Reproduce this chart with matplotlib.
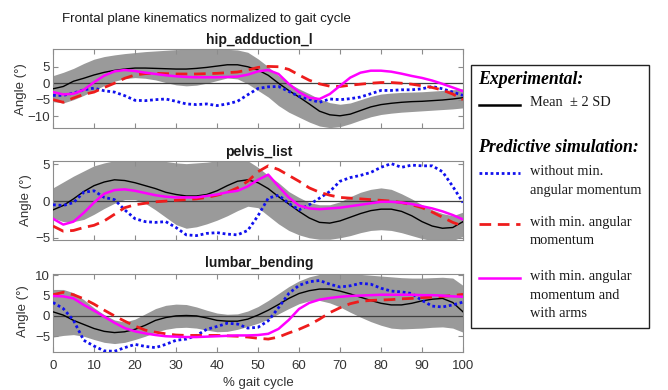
import numpy as np
import matplotlib
matplotlib.use("Agg")
import matplotlib.pyplot as plt
from matplotlib.lines import Line2D
from matplotlib.patches import Rectangle

# ---------------- data ----------------
gait = [0, 2.5, 5, 7.5, 10, 12.5, 15, 17.5, 20, 22.5, 25, 27.5, 30, 32.5, 35, 37.5, 40,
        42.5, 45, 47.5, 50, 52.5, 55, 57.5, 60, 62.5, 65, 67.5, 70, 72.5, 75, 77.5, 80,
        82.5, 85, 87.5, 90, 92.5, 95, 97.5, 100]

# hip_adduction_l
hip_mean = [-1.7, -1.0, 0.6, 1.5, 2.5, 3.3, 3.9, 4.3, 4.6, 4.6, 4.5, 4.4, 4.3, 4.3, 4.5, 4.8, 5.2,
            5.6, 5.6, 5.0, 4.0, 2.4, 0.0, -2.2, -4.2, -6.3, -8.5, -9.6, -9.9, -9.4, -8.3, -7.2, -6.5,
            -6.1, -5.8, -5.6, -5.5, -5.3, -5.1, -4.8, -4.4]
hip_upper = [2.3, 3.3, 4.5, 6.0, 7.3, 8.1, 8.6, 9.0, 9.3, 9.6, 9.8, 10.0, 10.2, 10.3, 10.3, 10.3, 10.3,
             10.3, 10.1, 9.4, 7.4, 5.0, 2.3, 0.0, -1.7, -3.2, -4.8, -5.9, -6.4, -6.0, -5.0, -4.0, -3.3,
             -3.0, -2.8, -2.7, -2.6, -2.4, -2.2, -2.0, -1.7]
hip_lower = [-5.6, -6.0, -5.0, -3.7, -2.2, -0.7, 0.6, 1.4, 1.7, 1.5, 1.0, 0.2, -0.5, -0.8, -0.6, 0.0, 0.8,
             1.6, 1.3, -0.2, -2.2, -4.2, -6.8, -8.8, -10.3, -11.8, -13.0, -13.5, -13.2, -12.3, -11.2, -10.2, -9.5,
             -9.1, -8.8, -8.6, -8.4, -8.2, -8.0, -7.8, -7.5]
hip_nomin = [-3.7, -3.7, -3.0, -2.0, -1.5, -2.3, -2.7, -3.8, -5.2, -5.3, -5.0, -4.8, -5.5, -6.3, -6.5, -6.3, -6.8,
             -6.3, -5.5, -3.5, -1.6, -1.1, -1.0, -2.5, -4.0, -4.9, -5.8, -4.8, -5.0, -4.7, -4.2, -3.2, -2.2,
             -2.2, -2.0, -2.0, -1.7, -1.0, -1.7, -2.7, -3.7]
hip_minam = [-5.0, -5.8, -4.5, -3.4, -2.7, -1.3, 0.0, 1.5, 2.5, 2.9, 3.0, 2.9, 2.8, 2.8, 2.8, 2.9, 3.0,
             3.2, 3.4, 4.0, 4.8, 5.1, 5.0, 4.2, 2.5, 0.9, -0.2, -0.9, -1.0, -0.6, -0.3, 0.0, 0.2,
             0.2, 0.0, -0.3, -0.8, -1.3, -2.1, -3.3, -5.0]
hip_arms = [-2.7, -3.4, -3.2, -2.0, 0.3, 2.3, 3.6, 4.0, 3.7, 3.2, 2.8, 2.4, 2.1, 1.9, 1.8, 1.8, 1.8,
            1.9, 2.0, 2.6, 3.6, 4.0, 2.8, -0.2, -2.7, -4.4, -4.8, -3.3, -0.8, 1.7, 3.2, 3.8, 3.8,
            3.5, 2.9, 2.2, 1.6, 0.8, -0.2, -1.3, -2.4]

# pelvis_list
pel_mean = [-1.2, -0.6, 0.3, 1.3, 2.1, 2.6, 2.9, 2.8, 2.5, 2.1, 1.7, 1.2, 0.9, 0.7, 0.7, 0.9, 1.4,
            2.1, 2.7, 2.9, 2.5, 1.7, 0.6, -0.4, -1.4, -2.3, -2.9, -3.0, -2.7, -2.2, -1.7, -1.3, -1.1,
            -1.1, -1.4, -2.0, -2.8, -3.4, -3.7, -3.6, -2.8]
pel_upper = [1.8, 2.6, 3.4, 4.1, 4.8, 5.2, 5.5, 5.5, 5.5, 5.5, 5.5, 5.4, 5.2, 5.1, 5.2, 5.3, 5.5,
             5.5, 5.5, 5.5, 4.6, 3.5, 2.5, 1.3, 0.5, -0.2, -0.5, -0.5, -0.1, 0.6, 1.2, 1.6, 1.8,
             1.6, 1.0, 0.3, -0.5, -1.2, -1.7, -2.0, -1.5]
pel_lower = [-2.3, -2.8, -2.8, -2.5, -1.8, -1.0, -0.3, 0.2, 0.2, -0.3, -1.2, -2.2, -3.2, -3.7, -3.5, -3.1, -2.6,
             -2.0, -1.3, -0.7, -0.9, -2.0, -3.1, -4.0, -4.6, -5.0, -5.2, -5.2, -5.0, -4.7, -4.3, -4.0, -3.9,
             -4.0, -4.3, -4.7, -5.1, -5.4, -5.5, -5.4, -4.8]
pel_nomin = [-0.5, -0.6, -0.2, 1.2, 1.4, 0.5, 0.2, -1.2, -2.4, -2.8, -2.9, -2.8, -3.6, -4.6, -4.7, -4.4, -4.3,
             -4.5, -4.6, -4.0, -2.0, 0.4, 0.8, -0.3, -1.2, -0.5, 0.4, 1.3, 2.7, 3.2, 3.5, 3.9, 4.6,
             5.1, 4.6, 4.9, 4.8, 4.8, 4.0, 2.0, -0.2]
pel_minam = [-3.4, -4.1, -4.0, -3.6, -3.3, -2.7, -1.8, -0.9, -0.5, -0.3, -0.1, 0.0, 0.1, 0.2, 0.3, 0.5, 0.8,
             1.2, 1.8, 2.7, 4.0, 4.8, 4.3, 3.5, 2.7, 1.8, 1.2, 0.8, 0.5, 0.4, 0.3, 0.2, 0.1,
             0.0, -0.2, -0.5, -0.9, -1.5, -2.2, -2.9, -3.4]
pel_arms = [-2.4, -3.2, -2.8, -1.6, -0.2, 1.0, 1.5, 1.6, 1.4, 1.1, 0.8, 0.6, 0.5, 0.5, 0.5, 0.7, 0.9,
            1.2, 1.4, 2.0, 2.9, 3.6, 2.0, 0.5, -0.6, -1.0, -1.1, -1.0, -0.9, -0.7, -0.5, -0.3, -0.1,
            -0.1, -0.2, -0.4, -0.7, -1.0, -1.4, -1.9, -2.5]

# lumbar_bending
lum_mean = [1.0, 0.2, -1.1, -2.1, -3.1, -3.8, -4.1, -3.9, -3.3, -2.3, -1.1, -0.4, 0.0, 0.1, 0.0, -0.5, -1.1,
            -1.3, -1.3, -0.8, 0.2, 1.4, 2.8, 4.3, 5.5, 6.2, 6.6, 6.6, 6.1, 5.4, 4.6, 3.8, 3.1,
            2.7, 2.7, 3.1, 3.7, 4.1, 4.3, 3.3, 1.0]
lum_upper = [6.5, 6.5, 5.7, 4.0, 2.0, 0.3, -1.0, -1.5, -0.8, 0.5, 1.8, 2.6, 2.9, 2.8, 2.2, 1.4, 0.7,
             0.4, 0.5, 1.2, 2.3, 3.8, 5.5, 7.2, 8.6, 9.6, 10.2, 10.3, 10.3, 10.3, 10.2, 10.0, 9.8,
             9.6, 9.4, 9.3, 9.3, 9.4, 9.5, 9.3, 7.5]
lum_lower = [-5.2, -4.8, -4.6, -5.0, -5.8, -6.5, -6.8, -6.5, -5.8, -5.0, -4.0, -3.3, -2.9, -2.8, -3.0, -3.5, -3.9,
             -3.8, -3.3, -2.6, -1.8, -0.8, 0.5, 1.8, 3.0, 3.7, 3.8, 3.2, 2.2, 0.9, -0.3, -1.4, -2.3,
             -3.0, -3.2, -3.1, -3.0, -2.8, -2.7, -3.0, -4.0]
lum_nomin = [3.3, 1.8, -1.1, -6.0, -7.4, -8.6, -8.7, -7.8, -7.0, -7.5, -7.8, -7.0, -6.0, -5.7, -4.8, -3.3, -2.6,
             -1.8, -2.0, -3.0, -2.8, -1.2, 2.0, 5.5, 7.5, 8.4, 8.7, 7.8, 7.1, 7.4, 8.0, 7.8, 6.8,
             6.1, 5.9, 5.5, 3.8, 2.4, 2.2, 2.7, 3.4]
lum_minam = [5.2, 5.8, 5.2, 4.2, 2.9, 1.4, 0.0, -1.3, -2.5, -3.5, -4.0, -4.4, -4.7, -4.8, -4.8, -4.8, -4.8,
             -4.9, -5.0, -5.2, -5.5, -5.7, -5.2, -4.2, -3.3, -2.2, -0.8, 0.8, 2.0, 3.0, 3.6, 3.8, 3.9,
             4.0, 4.2, 4.3, 4.5, 4.6, 4.8, 5.0, 5.3]
lum_arms = [4.9, 4.8, 4.3, 2.7, 1.3, -0.2, -1.7, -3.0, -3.8, -4.3, -4.7, -5.0, -5.1, -5.2, -5.2, -5.1, -5.0,
            -4.9, -4.8, -4.8, -4.7, -4.4, -3.2, -1.0, 1.7, 3.2, 4.0, 4.4, 4.7, 4.9, 5.0, 5.1, 5.2,
            5.2, 5.2, 5.2, 5.1, 5.1, 5.0, 4.8, 4.7]

panel_titles = ["hip_adduction_l", "pelvis_list", "lumbar_bending"]
yticks_list = [[-10, -5, 0, 5], [-5, 0, 5], [-5, 0, 5, 10]]
xticks = [0, 10, 20, 30, 40, 50, 60, 70, 80, 90, 100]

# ---------------- figure ----------------
W, H = 668, 390
fig = plt.figure(figsize=(W / 100, H / 100), dpi=100)
plt.rcParams['font.family'] = ['Liberation Sans', 'DejaVu Sans']

def fx(px):
    return px / W

def fy(py):
    return 1 - py / H

# axes boxes in pixels (left, top, right, bottom)
boxes = [(53, 49.3, 463, 128.3), (53, 160.7, 463, 240.0), (53, 274.0, 463, 351.7)]
ylims = [(-13.7, 10.3), (-5.3, 5.5), (-8.8, 10.3)]
data = [
    (hip_mean, hip_upper, hip_lower, hip_nomin, hip_minam, hip_arms),
    (pel_mean, pel_upper, pel_lower, pel_nomin, pel_minam, pel_arms),
    (lum_mean, lum_upper, lum_lower, lum_nomin, lum_minam, lum_arms),
]
title_y = [40, 152, 263]
ylabel_pos = [(21, 89), (26, 200), (23, 311)]

spine_col = '#8c8c8c'
tick_col = '#333333'

for i, (box, yl, d) in enumerate(zip(boxes, ylims, data)):
    l, t, r, b = box
    ax = fig.add_axes([fx(l), fy(b), fx(r - l), (b - t) / H])
    mean, up, lo, nomin, minam, arms = d
    ax.fill_between(gait, lo, up, color='#9a9a9a', linewidth=0, zorder=1)
    ax.axhline(0, color='#404040', lw=0.9, zorder=2)
    ax.plot(gait, mean, color='black', lw=1.0, zorder=3)
    ax.plot(gait, nomin, color='#1010ee', lw=2.0, linestyle=(0, (1, 1)), zorder=4)
    ax.plot(gait, minam, color='#ee1c1c', lw=2.0, linestyle=(0, (4.2, 2.4)), zorder=5)
    ax.plot(gait, arms, color='#ff00ff', lw=1.8, zorder=6)
    ax.set_xlim(0, 100)
    ax.set_ylim(*yl)
    ax.set_xticks(xticks)
    ax.set_yticks(yticks_list[i])
    ax.tick_params(direction='in', top=True, right=True, length=3.5, width=0.8,
                   color=spine_col, labelcolor=tick_col, labelsize=9.5, pad=2)
    ax.tick_params(axis='x', pad=6)
    if i < 2:
        ax.set_xticklabels([])
    for s in ax.spines.values():
        s.set_color(spine_col)
        s.set_linewidth(0.8)
    fig.text(fx(259), fy(title_y[i]), panel_titles[i], ha='center', va='center',
             fontsize=10, fontweight='bold', color='#1a1a1a')
    fig.text(fx(ylabel_pos[i][0]), fy(ylabel_pos[i][1]), 'Angle (°)', rotation=90,
             ha='center', va='center', fontsize=9.5, color=tick_col)

fig.text(fx(258), fy(383), '% gait cycle', ha='center', va='center', fontsize=9.5, color=tick_col)
fig.text(fx(62), fy(19), 'Frontal plane kinematics normalized to gait cycle',
         ha='left', va='center', fontsize=9.6, color='#1a1a1a')

# ---------------- legend panel ----------------
fig.add_artist(Rectangle((fx(470.7), fy(328)), fx(649 - 470.7), (328 - 65) / H,
                         transform=fig.transFigure, fill=False, edgecolor='#222222', lw=1.0))
serif = ['Liberation Serif', 'DejaVu Serif']
fig.text(fx(477.7), fy(80), 'Experimental:', ha='left', va='center', fontsize=12.8,
         fontweight='bold', fontstyle='italic', family=serif)
fig.text(fx(477.7), fy(147.7), 'Predictive simulation:', ha='left', va='center', fontsize=12.8,
         fontweight='bold', fontstyle='italic', family=serif)

legend_items = [
    (105, dict(color='black', lw=1.8), ['Mean  ± 2 SD'], 102.5),
    (172.7, dict(color='#1010ee', lw=2.0, linestyle=(0, (1, 1))), ['without min.', 'angular momentum'], 171.7),
    (224, dict(color='#ee1c1c', lw=2.0, linestyle=(0, (4.2, 2.4))), ['with min. angular', 'momentum'], 222.5),
    (278.3, dict(color='#ff00ff', lw=1.8), ['with min. angular', 'momentum and', 'with arms'], 276.7),
]
for ly, style, lines, ty in legend_items:
    fig.add_artist(Line2D([fx(479), fx(520)], [fy(ly), fy(ly)], transform=fig.transFigure, **style))
    for k, txt in enumerate(lines):
        fig.text(fx(530), fy(ty + k * 18.4), txt, ha='left', va='center', fontsize=10.4,
                 family=serif, color='#1a1a1a')

fig.savefig('out.png', dpi=100)
